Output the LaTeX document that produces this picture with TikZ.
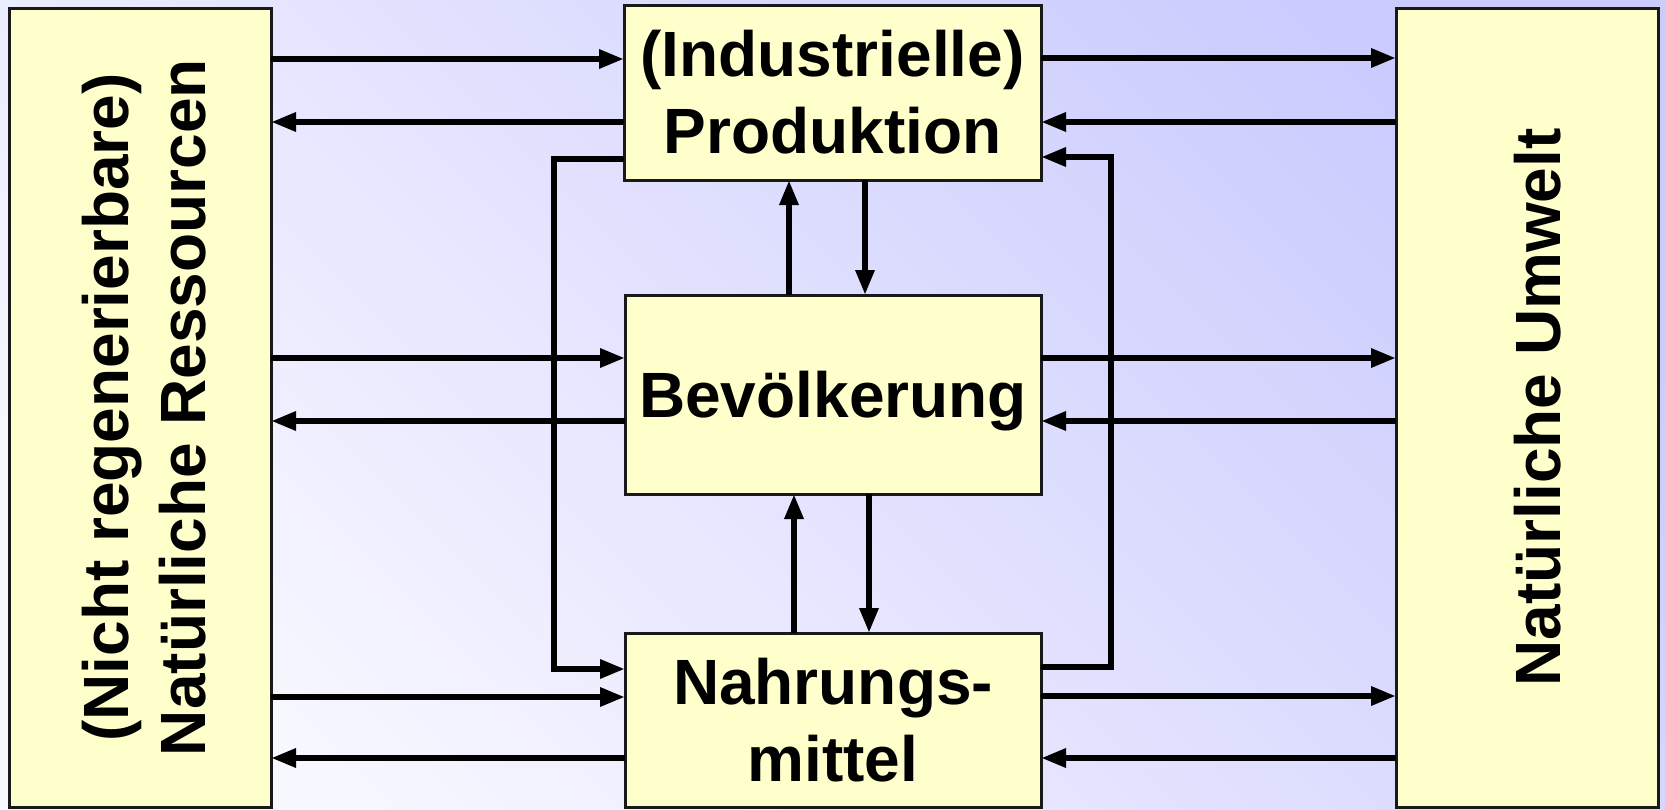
\documentclass[tikz,border=0pt]{standalone}
\usepackage{fontspec}
\setmainfont{Liberation Sans}
\usetikzlibrary{arrows.meta}
\definecolor{boxfill}{HTML}{FFFFCC}
\definecolor{bgdark}{HTML}{CBCBFE}
\definecolor{bglight}{HTML}{F7F7FF}

\begin{document}
\begin{tikzpicture}[x=1pt,y=-1pt,
  block/.style={draw=black!90, line width=3pt, fill=boxfill, inner sep=0pt,
    outer sep=0pt, align=center, font=\fontsize{64}{77}\selectfont\bfseries},
  flow/.style={line width=6pt, -{Triangle[length=25pt,width=18pt]}}]
\useasboundingbox (0,0) rectangle (1665,809);
\shade[top color=bgdark, bottom color=bglight, shading angle=-45] (0,0) rectangle (1665,809);

% the five blocks
\node[block, rotate=90, minimum width=799pt, minimum height=262pt, text height=131pt]
  (res) at (140,407.5) {(Nicht regenerierbare)\\Natürliche Ressourcen};
\node[block, rotate=90, minimum width=799pt, minimum height=262pt, text height=67pt]
  (umw) at (1527,407.5) {Natürliche Umwelt};
\node[block, minimum width=417pt, minimum height=175pt]
  (prod) at (832.5,92.5) {(Industrielle)\\Produktion};
\node[block, minimum width=416pt, minimum height=199pt, text height=45pt, text depth=0pt]
  (bev) at (833,394.5) {Bevölkerung};
\node[block, minimum width=416pt, minimum height=174pt]
  (nahr) at (833,720) {Nahrungs-\\mittel};

% resources <-> middle blocks
\draw[flow] (res.south |- 0,59)  -- (prod.west |- 0,59);
\draw[flow] (prod.west |- 0,122) -- (res.south |- 0,122);
\draw[flow] (res.south |- 0,358) -- (bev.west |- 0,358);
\draw[flow] (bev.west |- 0,421)  -- (res.south |- 0,421);
\draw[flow] (res.south |- 0,697) -- (nahr.west |- 0,697);
\draw[flow] (nahr.west |- 0,758) -- (res.south |- 0,758);

% middle blocks <-> environment
\draw[flow] (prod.east |- 0,58)  -- (umw.north |- 0,58);
\draw[flow] (umw.north |- 0,122) -- (prod.east |- 0,122);
\draw[flow] (bev.east |- 0,358)  -- (umw.north |- 0,358);
\draw[flow] (umw.north |- 0,421) -- (bev.east |- 0,421);
\draw[flow] (nahr.east |- 0,696) -- (umw.north |- 0,696);
\draw[flow] (umw.north |- 0,758) -- (nahr.east |- 0,758);

% vertical exchanges
\draw[flow] (bev.north -| 789,0)  -- (prod.south -| 789,0);
\draw[flow] (prod.south -| 865,0) -- (bev.north -| 865,0);
\draw[flow] (nahr.north -| 794,0) -- (bev.south -| 794,0);
\draw[flow] (bev.south -| 869,0)  -- (nahr.north -| 869,0);

% side loops between production and food
\draw[flow] (prod.west |- 0,159) -| (554,669) -- (nahr.west |- 0,669);
\draw[flow] (nahr.east |- 0,667) -| (1111,157) -- (prod.east |- 0,157);
\end{tikzpicture}
\end{document}
